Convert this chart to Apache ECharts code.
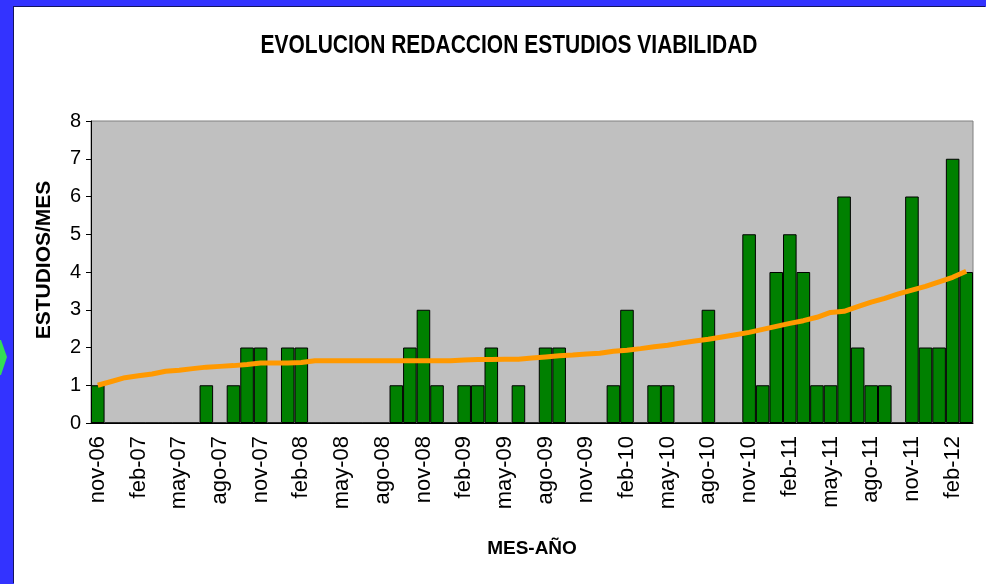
<!DOCTYPE html>
<html>
<head>
<meta charset="utf-8">
<script src="https://cdn.jsdelivr.net/npm/echarts@6/dist/echarts.min.js"></script>
<style>
  html, body { margin: 0; padding: 0; background: #3333ff; }
  #frame { position: absolute; left: 14px; top: 7px; width: 972px; height: 577px; background: #fff;
           box-shadow: -1px -1px 0 #14145e; }
  #container { position: absolute; left: 0; top: 0; width: 986px; height: 584px; }
</style>
</head>
<body>
<div id="frame"></div>
<div id="container"></div>
<script>
const months = [
  'nov-06', 'dic-06',
  'ene-07', 'feb-07', 'mar-07', 'abr-07', 'may-07', 'jun-07', 'jul-07', 'ago-07', 'sep-07', 'oct-07', 'nov-07', 'dic-07',
  'ene-08', 'feb-08', 'mar-08', 'abr-08', 'may-08', 'jun-08', 'jul-08', 'ago-08', 'sep-08', 'oct-08', 'nov-08', 'dic-08',
  'ene-09', 'feb-09', 'mar-09', 'abr-09', 'may-09', 'jun-09', 'jul-09', 'ago-09', 'sep-09', 'oct-09', 'nov-09', 'dic-09',
  'ene-10', 'feb-10', 'mar-10', 'abr-10', 'may-10', 'jun-10', 'jul-10', 'ago-10', 'sep-10', 'oct-10', 'nov-10', 'dic-10',
  'ene-11', 'feb-11', 'mar-11', 'abr-11', 'may-11', 'jun-11', 'jul-11', 'ago-11', 'sep-11', 'oct-11', 'nov-11', 'dic-11',
  'ene-12', 'feb-12', 'mar-12'
]

// estudios redactados cada mes
const estudios = [
  1, 0,
  0, 0, 0, 0, 0, 0, 1, 0, 1, 2, 2, 0,
  2, 2, 0, 0, 0, 0, 0, 0, 1, 2, 3, 1,
  0, 1, 1, 2, 0, 1, 0, 2, 2, 0, 0, 0,
  1, 3, 0, 1, 1, 0, 0, 3, 0, 0, 5, 1,
  4, 5, 4, 1, 1, 6, 2, 1, 1, 0, 6, 2,
  2, 7, 4
]

// linea de tendencia
const tendencia = [
  1.00, 1.10,
  1.20, 1.25, 1.30, 1.37, 1.40, 1.44, 1.48, 1.50, 1.52, 1.55, 1.59, 1.59,
  1.59, 1.60, 1.65, 1.65, 1.65, 1.65, 1.65, 1.65, 1.65, 1.65, 1.65, 1.65,
  1.65, 1.67, 1.68, 1.68, 1.69, 1.69, 1.72, 1.75, 1.78, 1.80, 1.83, 1.85,
  1.90, 1.93, 1.97, 2.02, 2.06, 2.12, 2.17, 2.22, 2.28, 2.34, 2.40, 2.48,
  2.56, 2.64, 2.71, 2.80, 2.93, 2.96, 3.08, 3.20, 3.30, 3.42, 3.52, 3.62,
  3.74, 3.86, 4.02
]

const chart = echarts.init(document.getElementById('container'))

const option = {
  animation: false,
  textStyle: { fontFamily: 'Liberation Sans, Arial, sans-serif', color: '#000' },
  graphic: [
    {
      type: 'polygon',
      shape: { points: [[0, 340], [1, 340], [7, 357], [1, 375], [0, 375]] },
      style: { fill: '#33dd55' }
    },
    {
      // titulo, algo estrecho como en el original
      type: 'text',
      x: 509,
      y: 46,
      scaleX: 0.84,
      style: {
        text: 'EVOLUCION REDACCION ESTUDIOS VIABILIDAD',
        fontFamily: 'Liberation Sans, Arial, sans-serif',
        fontWeight: 'bold',
        fontSize: 25,
        fill: '#000',
        align: 'center',
        verticalAlign: 'middle'
      }
    }
  ],
  grid: {
    left: 91,
    right: 13,
    top: 121,
    bottom: 161,
    show: true,
    backgroundColor: '#c0c0c0',
    borderColor: '#808080',
    borderWidth: 1
  },
  xAxis: {
    type: 'category',
    data: months,
    boundaryGap: true,
    name: 'MES-AÑO',
    nameLocation: 'middle',
    nameGap: 116,
    nameTextStyle: { fontWeight: 'bold', fontSize: 19, color: '#000' },
    axisLine: { lineStyle: { color: '#000', width: 1 } },
    axisTick: { interval: 2, length: 6, lineStyle: { color: '#000' } },
    axisLabel: { interval: 2, rotate: 90, fontSize: 22, color: '#000', margin: 13 }
  },
  yAxis: {
    type: 'value',
    min: 0,
    max: 8,
    interval: 1,
    name: 'ESTUDIOS/MES',
    nameLocation: 'middle',
    nameGap: 36,
    nameRotate: 90,
    nameTextStyle: { fontWeight: 'bold', fontSize: 21, color: '#000', padding: [0, 0, 0, 24] },
    axisLine: { show: true, lineStyle: { color: '#000', width: 1 } },
    axisTick: { show: true, length: 5, lineStyle: { color: '#000' } },
    axisLabel: { fontSize: 20, color: '#000', margin: 10 },
    splitLine: { show: false }
  },
  series: [
    {
      name: 'Estudios',
      type: 'bar',
      data: estudios,
      barCategoryGap: 0,
      itemStyle: { color: '#008000', borderColor: '#000', borderWidth: 1 }
    },
    {
      name: 'Tendencia',
      type: 'line',
      data: tendencia,
      symbol: 'none',
      z: 5,
      lineStyle: { color: '#ff9900', width: 5 }
    }
  ]
}

chart.setOption(option)
</script>
</body>
</html>
